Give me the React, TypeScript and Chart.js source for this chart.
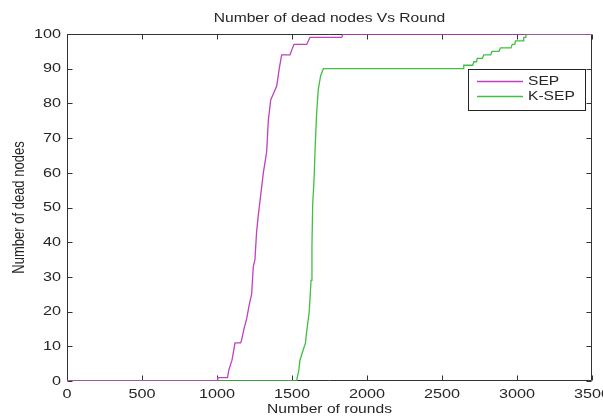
import React, { useEffect, useRef } from 'react';
import { Chart, registerables } from 'chart.js';

Chart.register(...registerables);

const TITLE = 'Number of dead nodes Vs Round';
const X_LABEL = 'Number of rounds';
const Y_LABEL = 'Number of dead nodes';
const SERIES_NAMES = ['SEP', 'K-SEP'];
const X_TICKS = [0, 500, 1000, 1500, 2000, 2500, 3000, 3500];
const Y_TICKS = [0, 10, 20, 30, 40, 50, 60, 70, 80, 90, 100];

const sepRounds = [0, 1000, 1005, 1070, 1078, 1092, 1100, 1112, 1120, 1158, 1165, 1180, 1198, 1215, 1231, 1242, 1253, 1264, 1276, 1287, 1298, 1309, 1320, 1331, 1342, 1358, 1378, 1398, 1415, 1431, 1487, 1495, 1504, 1513, 1598, 1620, 1831, 1840, 3500];
const sepDead = [0, 0, 1, 1, 3, 5, 6, 9, 11, 11, 12, 15, 18, 22, 25, 33, 35, 43, 48, 52, 56, 60, 63, 66, 75, 81, 83, 85, 90, 94, 94, 95, 96, 97, 97, 99, 99, 100, 100];

const ksepRounds = [0, 1530, 1545, 1553, 1575, 1590, 1597, 1615, 1627, 1633, 1638, 1647, 1655, 1664, 1675, 1691, 1709, 1720, 2640, 2645, 2705, 2712, 2730, 2735, 2770, 2778, 2825, 2833, 2880, 2890, 2960, 2968, 2985, 2990, 3040, 3045, 3058, 3062, 3500];
const ksepDead = [0, 0, 3, 6, 9, 11, 14, 20, 29, 39, 51, 58, 68, 77, 84, 88, 90, 90, 90, 91, 91, 92, 92, 93, 93, 94, 94, 95, 95, 96, 96, 97, 97, 98, 98, 99, 99, 100, 100];

const SEP_COLOR = '#c040c0';
const KSEP_COLOR = '#40c040';
const TEXT_COLOR = '#262626';
const FONT_FAMILY = '"Liberation Sans", Arial, sans-serif';
const SX = 1.2;

const stretchPlugin = {
  id: 'stretchText',
  beforeDraw(chart: any) {
    const ctx = chart.ctx as any;
    if (ctx.__origFillText) return;
    const orig = ctx.fillText;
    ctx.__origFillText = orig;
    ctx.fillText = function (text: string, x: number, y: number) {
      ctx.save();
      ctx.translate(x, y);
      const t = ctx.getTransform();
      if (Math.abs(t.b) > 0.5) ctx.scale(1, SX);
      else ctx.scale(SX, 1);
      orig.call(ctx, text, 0, 0);
      ctx.restore();
    };
  },
};

const framePlugin = {
  id: 'frame',
  beforeDatasetsDraw(chart: any) {
    const { ctx, chartArea, scales } = chart;
    const l = Math.round(chartArea.left) + 0.5;
    const r = Math.round(chartArea.right) - 0.5;
    const t = Math.round(chartArea.top) + 0.5;
    const b = Math.round(chartArea.bottom) - 0.5;
    ctx.save();
    ctx.strokeStyle = '#333333';
    ctx.lineWidth = 1;
    ctx.beginPath();
    ctx.rect(l, t, r - l, b - t);
    ctx.stroke();
    const tl = 5;
    ctx.beginPath();
    X_TICKS.forEach((v) => {
      const px = Math.round(scales.x.getPixelForValue(v)) + 0.5;
      ctx.moveTo(px, b);
      ctx.lineTo(px, b - tl);
      ctx.moveTo(px, t);
      ctx.lineTo(px, t + tl);
    });
    Y_TICKS.forEach((v) => {
      const py = Math.round(scales.y.getPixelForValue(v)) + 0.5;
      ctx.moveTo(l, py);
      ctx.lineTo(l + tl, py);
      ctx.moveTo(r, py);
      ctx.lineTo(r - tl, py);
    });
    ctx.stroke();
    ctx.restore();
  },
  afterDraw(chart: any) {
    const { ctx, chartArea } = chart;
    ctx.save();
    ctx.fillStyle = TEXT_COLOR;
    ctx.textAlign = 'center';
    ctx.textBaseline = 'middle';
    ctx.font = `13px ${FONT_FAMILY}`;
    const cx = (chartArea.left + chartArea.right) / 2;
    const cy = (chartArea.top + chartArea.bottom) / 2;
    ctx.fillText(TITLE, cx, 18);
    ctx.fillText(X_LABEL, cx, 409);
    ctx.save();
    ctx.translate(20, cy);
    ctx.rotate(-Math.PI / 2);
    ctx.fillText(Y_LABEL, 0, 0);
    ctx.restore();

    // legend box
    const bx = 468.5, by = 69.5, bw = 117, bh = 41;
    ctx.fillStyle = '#ffffff';
    ctx.fillRect(bx, by, bw, bh);
    ctx.strokeStyle = '#222222';
    ctx.lineWidth = 1;
    ctx.strokeRect(bx, by, bw, bh);
    const colors = [SEP_COLOR, KSEP_COLOR];
    const rows = [81, 96];
    SERIES_NAMES.forEach((name, i) => {
      ctx.strokeStyle = colors[i];
      ctx.lineWidth = 1.3;
      ctx.beginPath();
      ctx.moveTo(477, rows[i] + 0.5);
      ctx.lineTo(523, rows[i] + 0.5);
      ctx.stroke();
      ctx.fillStyle = TEXT_COLOR;
      ctx.textAlign = 'left';
      ctx.fillText(name, 528, rows[i] + 0.5);
    });
    ctx.restore();
  },
};

export default function App() {
  const ref = useRef<HTMLCanvasElement | null>(null);
  useEffect(() => {
    if (!ref.current) return;
    const toPts = (xs: number[], ys: number[]) => xs.map((x, i) => ({ x, y: ys[i] }));
    const tickFont = { family: FONT_FAMILY, size: 13.5 };
    const plain = (v: any) => String(v);
    const chart = new Chart(ref.current, {
      type: 'line',
      data: {
        datasets: [
          {
            label: SERIES_NAMES[0],
            data: toPts(sepRounds, sepDead),
            borderColor: SEP_COLOR,
            borderWidth: 1.3,
            pointRadius: 0,
            tension: 0,
            fill: false,
          },
          {
            label: SERIES_NAMES[1],
            data: toPts(ksepRounds, ksepDead),
            borderColor: KSEP_COLOR,
            borderWidth: 1.3,
            pointRadius: 0,
            tension: 0,
            fill: false,
          },
        ],
      },
      options: {
        responsive: false,
        animation: false,
        devicePixelRatio: 1,
        parsing: false,
        layout: { padding: { top: 34, right: 11, left: 0, bottom: 0 } },
        plugins: {
          legend: { display: false },
          title: { display: false },
          tooltip: { enabled: false },
        },
        scales: {
          x: {
            type: 'linear',
            min: 0,
            max: 3500,
            afterBuildTicks: (s: any) => {
              s.ticks = X_TICKS.map((v) => ({ value: v }));
            },
            ticks: { autoSkip: false, maxRotation: 0, padding: 5, font: tickFont, color: TEXT_COLOR, callback: plain },
            grid: { display: false, drawTicks: false },
            border: { display: false },
            afterFit: (s: any) => {
              s.height = 36;
              s.paddingLeft = 0;
              s.paddingRight = 0;
            },
          },
          y: {
            type: 'linear',
            min: 0,
            max: 100,
            afterBuildTicks: (s: any) => {
              s.ticks = Y_TICKS.map((v) => ({ value: v }));
            },
            ticks: { autoSkip: false, padding: 6, font: tickFont, color: TEXT_COLOR, callback: plain },
            grid: { display: false, drawTicks: false },
            border: { display: false },
            afterFit: (s: any) => {
              s.width = 67;
              s.paddingTop = 0;
              s.paddingBottom = 0;
            },
          },
        },
      } as any,
      plugins: [stretchPlugin, framePlugin],
    });
    return () => chart.destroy();
  }, []);
  return (
    <div style={{ position: 'absolute', left: 0, top: 0, width: 603, height: 417, background: '#fff' }}>
      <canvas ref={ref} width={603} height={417} style={{ width: 603, height: 417, display: 'block' }} />
    </div>
  );
}
